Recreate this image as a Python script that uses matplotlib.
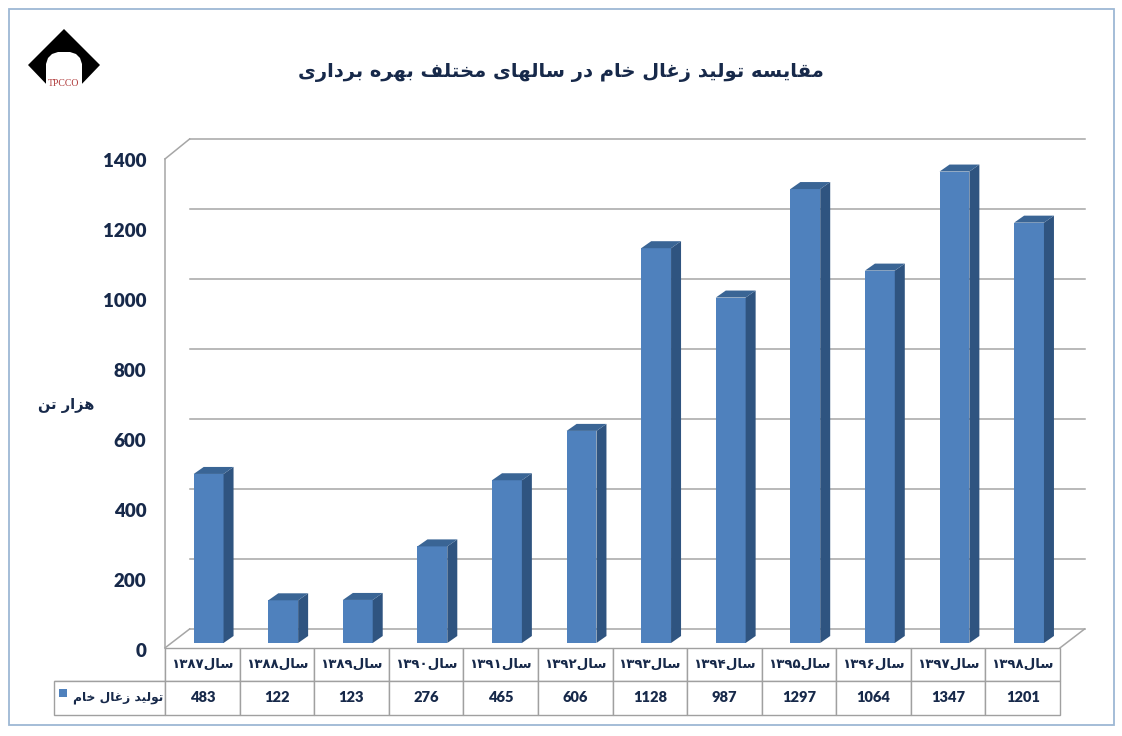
# -*- coding: utf-8 -*-
import matplotlib
matplotlib.use('Agg')
import matplotlib.pyplot as plt
from matplotlib.patches import Polygon, Rectangle
from matplotlib.transforms import ScaledTranslation

W, H = 1122, 736

title = 'مقایسه تولید زغال خام در سالهای مختلف بهره برداری'
unit_label = 'هزار تن'
series_name = 'تولید زغال خام'
year_word = 'سال'
years = ['۱۳۸۷', '۱۳۸۸', '۱۳۸۹', '۱۳۹۰', '۱۳۹۱', '۱۳۹۲',
         '۱۳۹۳', '۱۳۹۴', '۱۳۹۵', '۱۳۹۶', '۱۳۹۷', '۱۳۹۸']
values = [483, 122, 123, 276, 465, 606, 1128, 987, 1297, 1064, 1347, 1201]
y_ticks = [0, 200, 400, 600, 800, 1000, 1200, 1400]

NAVY = '#17294a'
FRONT = '#4f81bd'
SIDE = '#2f5480'
TOP = '#3a6595'
GRID = '#a6a6a6'
LW = 1.1

# matplotlib does no arabic shaping, so use the presentation forms
# letter: isolated, final, initial, medial
forms = {
    'ا': 'ﺍﺎ', 'د': 'ﺩﺪ', 'ر': 'ﺭﺮ', 'ز': 'ﺯﺰ', 'و': 'ﻭﻮ',
    'ب': 'ﺏﺐﺑﺒ', 'ت': 'ﺕﺖﺗﺘ', 'خ': 'ﺥﺦﺧﺨ', 'س': 'ﺱﺲﺳﺴ',
    'غ': 'ﻍﻎﻏﻐ', 'ف': 'ﻑﻒﻓﻔ', 'ق': 'ﻕﻖﻗﻘ', 'ل': 'ﻝﻞﻟﻠ',
    'م': 'ﻡﻢﻣﻤ', 'ن': 'ﻥﻦﻧﻨ', 'ه': 'ﻩﻪﻫﻬ', 'ی': 'ﯼﯽﯾﯿ',
}


def shape(text):
    out = []
    for word in text.split(' '):
        w = ''
        for i, c in enumerate(word):
            f = forms[c]
            joins_prev = i > 0 and len(forms[word[i - 1]]) == 4
            joins_next = i < len(word) - 1 and len(f) == 4
            if joins_prev and joins_next:
                w += f[3]
            elif joins_next:
                w += f[2]
            elif joins_prev:
                w += f[1]
            else:
                w += f[0]
        out.append(w[::-1])
    return ' '.join(out[::-1])


def px(x0, y0, x1, y1):
    # pixel box (top-left origin) to figure fractions
    return [x0 / W, 1 - y1 / H, (x1 - x0) / W, (y1 - y0) / H]


fig = plt.figure(figsize=(W / 100, H / 100), dpi=100)
fig.patches.append(Rectangle((8.5 / W, 1 - 725 / H), 1105 / W, 716 / H, transform=fig.transFigure,
                             fill=False, ec='#9db8d4', lw=1.3))

ax = fig.add_axes(px(165, 153, 1060, 643))
ax.set_xlim(-0.5, 11.5)
ax.set_ylim(0, 1400)
ax.patch.set_visible(False)
for s in ax.spines.values():
    s.set_visible(False)

# back wall and floor
depth_x, depth_y = 0.33, 40
front_y = -14
left, right = -0.5, 11.5
for v in y_ticks:
    ax.plot([left + depth_x, right + depth_x], [v + depth_y, v + depth_y], color=GRID, lw=LW,
            clip_on=False, zorder=1)
ax.plot([left, left], [front_y, 1383], color=GRID, lw=LW, clip_on=False, zorder=1)
ax.plot([left, left + depth_x], [1383, 1400 + depth_y], color=GRID, lw=LW, clip_on=False, zorder=1)
ax.plot([left, left + depth_x], [front_y, depth_y], color=GRID, lw=LW, clip_on=False, zorder=1)
ax.plot([right, right + depth_x], [front_y, depth_y], color=GRID, lw=LW, clip_on=False, zorder=1)

# bars, 3d look by hand
bar_w = 0.40
shift = 0.085
dx, dy = 0.134, 20
xs = [i + shift for i in range(len(values))]
ax.bar(xs, values, width=bar_w, color=FRONT, zorder=3)
for x, v in zip(xs, values):
    x1 = x + bar_w / 2
    x0 = x - bar_w / 2
    ax.fill([x1, x1 + dx, x1 + dx, x1], [0, dy, v + dy, v], color=SIDE, lw=0, zorder=3, clip_on=False)
    ax.fill([x0, x0 + dx, x1 + dx, x1], [v, v + dy, v + dy, v], color=TOP, lw=0, zorder=3, clip_on=False)

ax.set_xticks([])
ax.set_yticks(y_ticks)
ax.set_yticklabels([str(v) for v in y_ticks], fontfamily='Lato', fontweight='heavy', fontsize=13.5, color=NAVY)
ax.tick_params(axis='y', length=0, pad=13.5)
for lab in ax.get_yticklabels():
    lab.set_transform(lab.get_transform() + ScaledTranslation(0, -5 / 72, fig.dpi_scale_trans))

# table under the bars
col_labels = [years[i] + shape(year_word) for i in range(len(years))]
cell_text = [[''] + col_labels, [shape(series_name)] + [str(v) for v in values]]
axis_w = 895.0
axis_h = 490.0
leg_w = 111 / axis_w
tbl = ax.table(cellText=cell_text, colWidths=[leg_w] + [1 / 12] * 12,
               bbox=[-leg_w, -71.5 / axis_h, 1 + leg_w, 66.5 / axis_h], cellLoc='center')
tbl.auto_set_font_size(False)
for (r, c), cell in tbl.get_celld().items():
    cell.set_edgecolor('#a0a0a0')
    cell.set_linewidth(1.0)
    cell.PAD = 0.02
    t = cell.get_text()
    t.set_color(NAVY)
    t.set_fontweight('bold')
    if r == 0:
        t.set_fontfamily('DejaVu Sans')
        t.set_fontsize(9.6)
        if c == 0:
            cell.visible_edges = 'BR'
    elif c == 0:
        t.set_fontfamily('DejaVu Sans')
        t.set_fontsize(8.8)
        cell.set_text_props(ha='right')
        t.set_x(cell.get_x() + cell.get_width() - 0.003)
    else:
        t.set_fontfamily('Lato')
        t.set_fontweight('heavy')
        t.set_fontsize(10.5)

# legend swatch
fig.patches.append(Rectangle((59 / W, 1 - 697 / H), 8 / W, 8 / H, transform=fig.transFigure,
                             fc=FRONT, ec='none'))

fig.text(561 / W, 1 - 72 / H, shape(title), ha='center', va='center', fontfamily='DejaVu Sans',
         fontweight='bold', fontsize=14, color=NAVY)
fig.text(66 / W, 1 - 406 / H, shape(unit_label), ha='center', va='center', fontfamily='DejaVu Sans',
         fontweight='bold', fontsize=10.5, color=NAVY)

# logo
logo = fig.add_axes(px(24, 24, 104, 104))
logo.set_xlim(24, 104)
logo.set_ylim(104, 24)
logo.axis('off')
logo.add_patch(Polygon([(64, 29), (100, 65), (78, 88), (50, 88), (28, 65)], fc='black', ec='none'))
arch_x = [46, 46, 48, 52, 58, 70, 76, 80, 82, 82]
arch_y = [92, 64, 58, 54, 52, 52, 54, 58, 64, 92]
logo.fill(arch_x, arch_y, color='white', lw=0)
logo.text(64, 84, 'TPCCO', ha='center', va='center', fontfamily='Liberation Serif', fontsize=7, color='#b03a3a')

fig.savefig('out.png', dpi=100)
